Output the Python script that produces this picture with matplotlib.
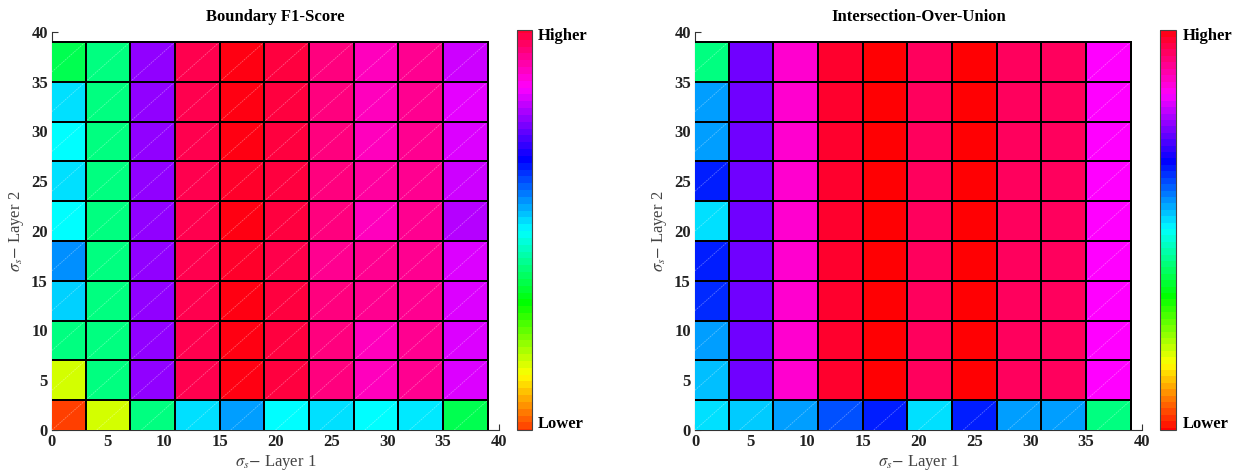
import colorsys
import numpy as np
import matplotlib
matplotlib.use("Agg")
import matplotlib.pyplot as plt
from matplotlib.colors import ListedColormap, Normalize
from matplotlib.collections import LineCollection
import matplotlib.cm as cm

# ---------------- data ----------------
sigma_layer1 = [1, 5, 9, 13, 17, 21, 25, 29, 33, 37]
sigma_layer2 = [1, 5, 9, 13, 17, 21, 25, 29, 33, 37]
ticks = [0, 5, 10, 15, 20, 25, 30, 35, 40]

# normalised scores (rows: layer 2 from bottom, cols: layer 1)
f1_score = [
    [0.042, 0.197, 0.417, 0.520, 0.563, 0.500, 0.520, 0.500, 0.515, 0.385],
    [0.197, 0.417, 0.760, 0.948, 0.988, 0.958, 0.917, 0.875, 0.906, 0.810],
    [0.417, 0.417, 0.760, 0.948, 0.988, 0.958, 0.917, 0.875, 0.906, 0.810],
    [0.530, 0.417, 0.760, 0.948, 0.988, 0.958, 0.917, 0.906, 0.906, 0.810],
    [0.573, 0.417, 0.760, 0.948, 0.972, 0.950, 0.906, 0.906, 0.906, 0.810],
    [0.500, 0.417, 0.760, 0.948, 0.988, 0.958, 0.917, 0.875, 0.906, 0.785],
    [0.520, 0.417, 0.760, 0.948, 0.972, 0.958, 0.917, 0.896, 0.906, 0.800],
    [0.500, 0.417, 0.760, 0.948, 0.988, 0.958, 0.917, 0.875, 0.906, 0.810],
    [0.520, 0.417, 0.760, 0.948, 0.988, 0.958, 0.917, 0.875, 0.906, 0.815],
    [0.385, 0.417, 0.760, 0.948, 0.988, 0.958, 0.917, 0.875, 0.906, 0.800],
]
iou = [
    [0.520, 0.535, 0.563, 0.615, 0.647, 0.520, 0.647, 0.563, 0.563, 0.417],
    [0.542, 0.740, 0.864, 0.969, 0.998, 0.938, 0.997, 0.938, 0.938, 0.833],
    [0.563, 0.740, 0.864, 0.969, 0.998, 0.938, 0.997, 0.938, 0.938, 0.833],
    [0.640, 0.740, 0.864, 0.969, 0.998, 0.938, 0.997, 0.938, 0.938, 0.833],
    [0.647, 0.740, 0.864, 0.969, 0.998, 0.938, 0.997, 0.938, 0.938, 0.833],
    [0.520, 0.740, 0.864, 0.969, 0.998, 0.938, 0.997, 0.938, 0.938, 0.833],
    [0.647, 0.740, 0.864, 0.969, 0.998, 0.938, 0.997, 0.938, 0.938, 0.833],
    [0.563, 0.740, 0.864, 0.969, 0.998, 0.938, 0.997, 0.938, 0.938, 0.833],
    [0.563, 0.740, 0.864, 0.969, 0.998, 0.938, 0.997, 0.938, 0.938, 0.833],
    [0.417, 0.740, 0.864, 0.969, 0.998, 0.938, 0.997, 0.938, 0.938, 0.833],
]
titles = ["Boundary F1-Score", "Intersection-Over-Union"]
cbar_ranges = [(0.045, 0.960), (0.010, 0.985)]

# ---------------- style ----------------
plt.rcParams["font.family"] = ["Liberation Serif", "DejaVu Serif"]
plt.rcParams["mathtext.fontset"] = "stix"

def hsv_cmap(n):
    return ListedColormap([colorsys.hsv_to_rgb(h, 1, 1) for h in np.linspace(0, 1, n)])

cmap_fine = hsv_cmap(512)
cmap_bar = hsv_cmap(64)
norm = Normalize(0, 1)

W, H = 1233, 472
fig = plt.figure(figsize=(W / 100, H / 100), dpi=100)

ax_boxes = [(52, 32, 447, 398), (695, 32, 447, 398)]
cb_boxes = [(517, 30, 15, 400), (1160, 30, 16, 400)]

def frac(box):
    x, y, w, h = box
    return [x / W, 1 - (y + h) / H, w / W, h / H]

datasets = [f1_score, iou]
diag_cells = [None, "edges"]

for k in range(2):
    ax = fig.add_axes(frac(ax_boxes[k]))
    Z = np.array(datasets[k])
    mesh = ax.pcolormesh(sigma_layer1, sigma_layer2, Z, shading="nearest",
                         cmap=cmap_fine, norm=norm, edgecolors="black",
                         linewidth=1.1, zorder=3)
    # faint triangulation diagonals (rendering artefact in the original)
    x = np.array(sigma_layer1, float)
    y = np.array(sigma_layer2, float)
    xe = np.concatenate([[x[0] - (x[1] - x[0]) / 2], (x[:-1] + x[1:]) / 2, [x[-1] + (x[-1] - x[-2]) / 2]])
    ye = np.concatenate([[y[0] - (y[1] - y[0]) / 2], (y[:-1] + y[1:]) / 2, [y[-1] + (y[-1] - y[-2]) / 2]])
    segs = []
    for i in range(len(ye) - 1):
        for j in range(len(xe) - 1):
            if k == 1 and not (i == 0 or j == 0 or j == len(xe) - 2):
                continue
            segs.append([(xe[j], ye[i]), (xe[j + 1], ye[i + 1])])
    lc = LineCollection(segs, colors="white", linewidths=0.6, alpha=0.35,
                        linestyles=(0, (2, 1)), zorder=3.5)
    ax.add_collection(lc)
    # redraw cell edges on top of the diagonals
    ax.pcolormesh(sigma_layer1, sigma_layer2, Z, shading="nearest",
                  facecolors="none", edgecolors="black", linewidth=1.1, zorder=4)

    ax.set_xlim(0, 40)
    ax.set_ylim(0, 40)
    ax.set_xticks(ticks)
    ax.set_yticks(ticks)
    ax.set_xticklabels([str(t) for t in ticks], fontweight="bold", fontsize=12)
    ax.set_yticklabels([str(t) for t in ticks], fontweight="bold", fontsize=12)
    ax.tick_params(direction="in", length=4, width=0.8, colors="#333333",
                   labelcolor="#222222", pad=3)
    for s in ["top", "right"]:
        ax.spines[s].set_visible(False)
    for s in ["left", "bottom"]:
        ax.spines[s].set_color("#333333")
        ax.spines[s].set_linewidth(0.8)
    ax.set_xlabel(r"$\sigma_s$$-$ Layer 1", fontsize=12, color="#444444", labelpad=2)
    ax.set_ylabel(r"$\sigma_s$$-$ Layer 2", fontsize=12, color="#444444", labelpad=4)
    ax.set_title(titles[k], fontweight="bold", fontsize=12, pad=8)

    # colorbar
    cax = fig.add_axes(frac(cb_boxes[k]))
    sm = cm.ScalarMappable(norm=norm, cmap=cmap_bar)
    cb = fig.colorbar(sm, cax=cax)
    cb.set_ticks([])
    cb.outline.set_edgecolor("#444444")
    cb.outline.set_linewidth(0.8)
    cax.set_ylim(*cbar_ranges[k])
    cax.text(1.4, 0.985, "Higher", transform=cax.transAxes, fontweight="bold",
             fontsize=12, va="center", ha="left")
    cax.text(1.4, 0.015, "Lower", transform=cax.transAxes, fontweight="bold",
             fontsize=12, va="center", ha="left")

fig.savefig("out.png", dpi=100)
